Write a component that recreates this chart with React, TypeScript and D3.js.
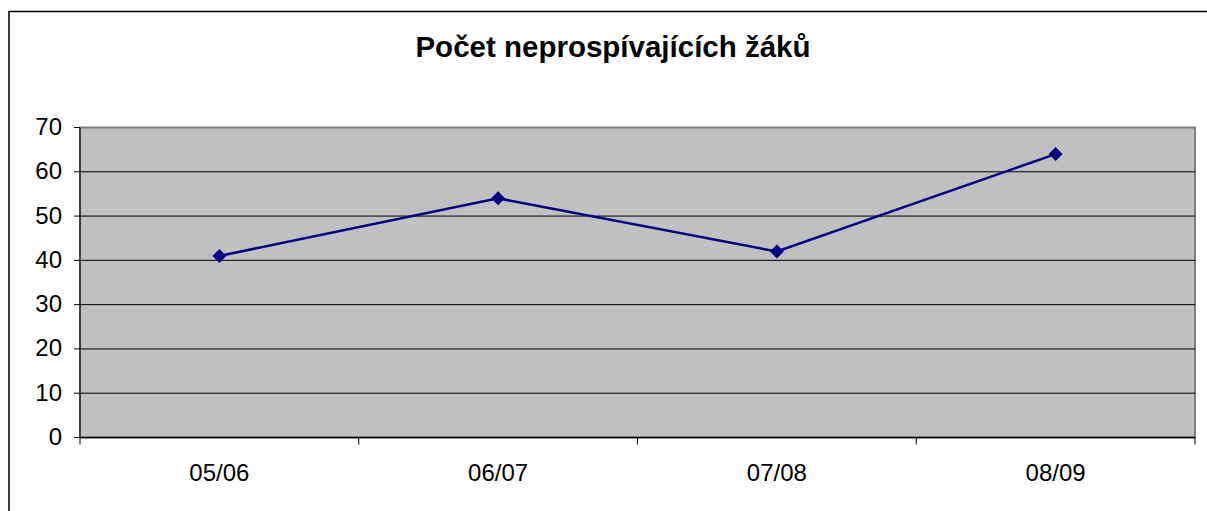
import React from 'react';
import * as d3 from 'd3';

const years = ['05/06', '06/07', '07/08', '08/09'];
const failing = [41, 54, 42, 64];
const yTicks = [0, 10, 20, 30, 40, 50, 60, 70];

export default function App() {
    const width = 1207;
    const height = 511;

    const plot = { left: 80, right: 1195, top: 127.5, bottom: 437.5 };

    const xScale = d3.scaleBand()
        .domain(years)
        .range([plot.left, plot.right]);

    const yScale = d3.scaleLinear()
        .domain([0, 70])
        .range([plot.bottom, plot.top]);

    const line = d3.line<number>()
        .x((d, i) => (xScale(years[i]) as number) + xScale.bandwidth() / 2)
        .y(d => yScale(d));

    const font = '"Liberation Sans", Arial, sans-serif';

    // category boundaries for the bottom tick marks
    const bounds = years.map(y => xScale(y) as number).concat([plot.right]);

    return (
        <svg width={width} height={height}
            style={{ position: 'absolute', left: 0, top: 0, background: '#fff' }}>
            {/* outer chart border, right and bottom edges fall outside the picture */}
            <rect x={9} y={11.5} width={1230} height={530} fill="none" stroke="#000" strokeWidth={1.5} />

            <text x={613} y={57} textAnchor="middle" fontFamily={font} fontSize={29.5} fontWeight="bold">
                Počet neprospívajících žáků
            </text>

            <rect x={plot.left} y={plot.top} width={plot.right - plot.left} height={plot.bottom - plot.top}
                fill="#C0C0C0" stroke="#808080" strokeWidth={2} />

            {yTicks.slice(1, -1).map(t => (
                <line key={t} x1={plot.left} x2={plot.right} y1={yScale(t)} y2={yScale(t)} stroke="#000" strokeWidth={1} />
            ))}

            {/* y axis */}
            <line x1={plot.left} x2={plot.left} y1={plot.top} y2={plot.bottom} stroke="#000" strokeWidth={1} />
            {yTicks.map(t => (
                <g key={t}>
                    <line x1={plot.left - 6} x2={plot.left} y1={yScale(t)} y2={yScale(t)} stroke="#000" />
                    <text x={62} y={yScale(t) + 7.5} textAnchor="end" fontFamily={font} fontSize={24}>{t}</text>
                </g>
            ))}

            {/* x axis */}
            <line x1={plot.left} x2={plot.right} y1={plot.bottom} y2={plot.bottom} stroke="#000" strokeWidth={1.5} />
            {bounds.map((b, i) => (
                <line key={i} x1={b} x2={b} y1={plot.bottom} y2={plot.bottom + 7} stroke="#000" />
            ))}
            {years.map(y => (
                <text key={y} x={(xScale(y) as number) + xScale.bandwidth() / 2} y={481}
                    textAnchor="middle" fontFamily={font} fontSize={24}>{y}</text>
            ))}

            <path d={line(failing) || ''} fill="none" stroke="#000080" strokeWidth={2.5} />
            {failing.map((v, i) => {
                const cx = (xScale(years[i]) as number) + xScale.bandwidth() / 2;
                const cy = yScale(v);
                const s = 7;
                return (
                    <path key={i} d={`M${cx},${cy - s}L${cx + s},${cy}L${cx},${cy + s}L${cx - s},${cy}Z`} fill="#000080" />
                );
            })}
        </svg>
    );
}
